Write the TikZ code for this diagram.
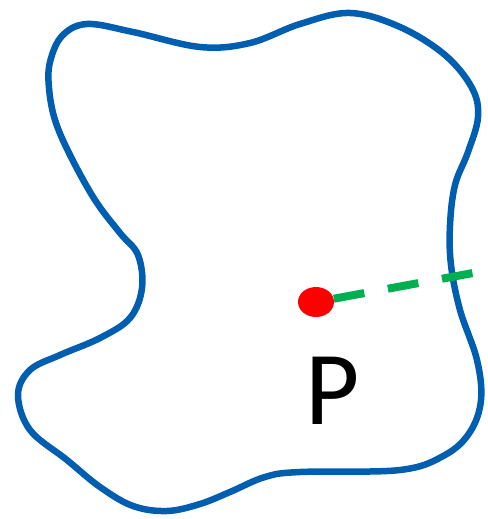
\documentclass[tikz,border=0pt]{standalone}
\usepackage{fontspec}
\usetikzlibrary{shapes.geometric}
\newfontfamily\labelfont{Carlito}
\definecolor{blobblue}{RGB}{0,94,176}
\definecolor{dashgreen}{RGB}{0,176,80}
\begin{document}
\begin{tikzpicture}[x=1pt,y=-1pt,
  blob/.style={draw=blobblue,line width=6.5pt,line join=round},
  dotstyle/.style={ellipse,fill=red,draw=none,minimum width=36pt,minimum height=30pt,inner sep=0pt},
  dashline/.style={draw=dashgreen,line width=8pt,dash pattern=on 31pt off 24pt},
  lbl/.style={font=\labelfont\fontsize{105}{105}\selectfont,inner sep=0pt,text=black}]
\useasboundingbox (0,0) rectangle (487,519);
\draw[blob] plot[smooth cycle,tension=0.6] coordinates {
  (50,62) (62,36) (87,24) (133,32) (200,47) (250,43) (300,24) (350,13)
  (400,27) (445,55) (472,88) (478,117) (468,152) (455,185) (450,225)
  (451,265) (460,310) (477,360) (481,400) (470,432) (445,455) (400,470)
  (300,472) (265,477) (230,492) (200,504) (167,511) (133,506) (100,487)
  (67,460) (30,430) (18,395) (30,370) (60,355) (100,338) (130,318)
  (142,288) (138,255) (120,233) (95,200) (70,155) (55,120) (49,88)};
\node[dotstyle] (p) at (316,302) {};
\coordinate (q) at (473,273);
\draw[dashline] (p) -- (q);
\node[lbl] (plabel) at (333,391) {P};
\end{tikzpicture}
\end{document}
